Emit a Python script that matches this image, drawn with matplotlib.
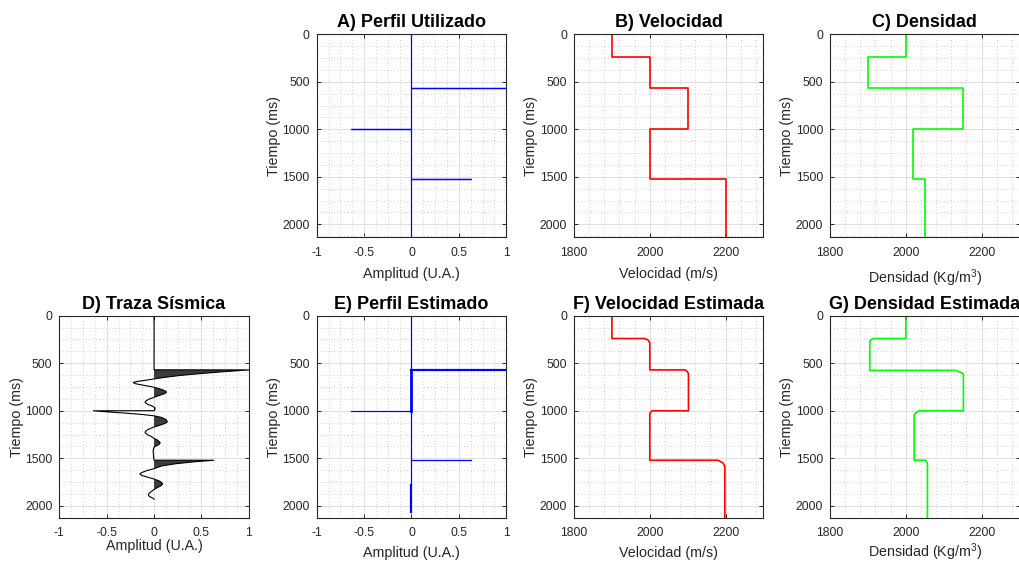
import numpy as np
import matplotlib
matplotlib.use('Agg')
import matplotlib.pyplot as plt
from matplotlib.ticker import MultipleLocator

plt.rcParams['font.family'] = ['Liberation Sans', 'DejaVu Sans']
plt.rcParams['mathtext.fontset'] = 'custom'
plt.rcParams['mathtext.rm'] = 'Liberation Sans'
plt.rcParams['mathtext.it'] = 'Liberation Sans:italic'
plt.rcParams['mathtext.default'] = 'regular'

# ---------------- data ----------------
layer_top = [0, 240, 570, 1000, 1520]
vel = [1900, 2000, 2100, 2000, 2200]
dens = [2000, 1900, 2150, 2020, 2050]
t_end_top = 2136
t_end_bot = 2124

spike_t = [570, 1000, 1520]
spike_a = [1.0, -0.64, 0.63]

est_spike_t = [570, 1000, 1520]
est_spike_a = [1.0, -0.64, 0.63]
est_base_t0 = [0, 570, 1000, 1780]
est_base_t1 = [570, 1000, 1780, 2060]
est_base_a = [0.0, -0.008, 0.0, -0.010]
est_base_w = [0.9, 2.0, 0.9, 1.6]

trace_t = [0, 569, 570, 590, 610, 630, 650, 665, 680, 692, 702, 714, 732, 752,
           775, 795, 806, 820, 840, 858, 880, 900, 912, 930, 950, 968, 985, 999,
           1000, 1012, 1026, 1040, 1053, 1070, 1095, 1117, 1135, 1155, 1170,
           1195, 1215, 1230, 1250, 1270, 1290, 1310, 1336, 1355, 1370, 1382,
           1420, 1480, 1519, 1520, 1535, 1555, 1580, 1608, 1630, 1650, 1664,
           1680, 1700, 1717, 1740, 1760, 1770, 1790, 1810, 1827, 1850, 1870,
           1890, 1905, 1920, 1930]
trace_a = [0.0, 0.0, 1.0, 0.72, 0.47, 0.26, 0.10, 0.0, -0.10, -0.18, -0.22,
           -0.20, -0.11, 0.0, 0.08, 0.125, 0.13, 0.11, 0.05, 0.0, -0.06, -0.09,
           -0.095, -0.07, -0.02, 0.01, 0.01, 0.0, -0.64, -0.48, -0.28, -0.11,
           0.0, 0.08, 0.13, 0.14, 0.11, 0.05, 0.0, -0.06, -0.09, -0.095, -0.07,
           -0.03, 0.0, 0.04, 0.065, 0.05, 0.02, 0.0, -0.01, -0.005, 0.0, 0.63,
           0.44, 0.24, 0.08, 0.0, -0.08, -0.13, -0.15, -0.13, -0.06, 0.0, 0.06,
           0.085, 0.09, 0.07, 0.03, 0.0, -0.03, -0.055, -0.06, -0.04, -0.01, 0.0]

est_vel_t = [0, 240, 240, 258, 285, 570, 570, 588, 610, 1000, 1000, 1018, 1045,
             1520, 1520, 1548, 1585, 2124]
est_vel = [1900, 1900, 1987, 1996, 2000, 2000, 2093, 2099, 2102, 2102, 2006,
           2001, 2000, 2000, 2180, 2193, 2198, 2198]

est_dens_t = [0, 240, 240, 255, 275, 575, 575, 595, 615, 1000, 1000, 1020,
              1045, 1520, 1520, 1540, 1565, 2124]
est_dens = [2000, 2000, 1915, 1907, 1905, 1905, 2130, 2145, 2152, 2152, 2035,
            2026, 2022, 2022, 2052, 2056, 2057, 2057]

amp_ticks = [-1, -0.5, 0, 0.5, 1]
amp_labels = ['-1', '-0.5', '0', '0.5', '1']
phys_ticks = [1800, 2000, 2200]
phys_labels = ['1800', '2000', '2200']
time_ticks = [0, 500, 1000, 1500, 2000]

# ---------------- figure ----------------
W, H = 1019, 562
fig = plt.figure(figsize=(W / 100, H / 100), dpi=100)

col_left = [59.3, 316.7, 574.0, 830.0]
ax_w = 189.5
top_row = (34.3, 237.3)
bot_row = (315.7, 517.7)


def make_ax(col, row):
    l = col_left[col] / W
    b = 1 - row[1] / H
    h = (row[1] - row[0]) / H
    return fig.add_axes([l, b, ax_w / W, h])


TXT = '#262626'


def style(ax, kind, tmax, title, xlabel, xlabelpad=6):
    if kind == 'amp':
        ax.set_xlim(-1, 1)
        ax.set_xticks(amp_ticks)
        ax.set_xticklabels(amp_labels)
        ax.xaxis.set_minor_locator(MultipleLocator(0.125))
    else:
        ax.set_xlim(1800, 2300)
        ax.set_xticks(phys_ticks)
        ax.set_xticklabels(phys_labels)
        ax.xaxis.set_minor_locator(MultipleLocator(40))
    ax.set_ylim(tmax, 0)
    ax.set_yticks(time_ticks)
    ax.yaxis.set_minor_locator(MultipleLocator(125))
    ax.grid(which='major', color='#dedede', lw=0.7, ls='-')
    ax.grid(which='minor', color='#c4c4c4', lw=0.6, ls=(0, (1, 3)))
    ax.set_axisbelow(True)
    ax.tick_params(which='major', direction='in', length=3, width=0.7,
                   top=True, right=True, labelsize=8.7, colors=TXT)
    ax.tick_params(axis='x', which='major', pad=7)
    ax.tick_params(axis='y', which='major', pad=5)
    ax.tick_params(which='minor', length=0)
    for s in ax.spines.values():
        s.set_color(TXT)
        s.set_linewidth(0.8)
    ax.set_title(title, fontsize=13, fontweight='bold', pad=5)
    ax.set_xlabel(xlabel, fontsize=10.3, color=TXT, labelpad=xlabelpad)
    ax.set_ylabel('Tiempo (ms)', fontsize=10.3, color=TXT, labelpad=1)


def step_profile(tops, vals, tend):
    t, v = [], []
    bounds = list(tops[1:]) + [tend]
    for top, bot, val in zip(tops, bounds, vals):
        t += [top, bot]
        v += [val, val]
    return np.array(v), np.array(t)


def spike_line(ts, amps, tend):
    x, y = [0.0], [0.0]
    for t, a in zip(ts, amps):
        x += [0.0, a, 0.0]
        y += [t, t, t]
    x.append(0.0)
    y.append(tend)
    return np.array(x), np.array(y)


# A) Perfil Utilizado
axA = make_ax(1, top_row)
xa, ya = spike_line(spike_t, spike_a, t_end_top)
axA.plot(xa, ya, color='#0000ff', lw=0.9)
style(axA, 'amp', t_end_top, 'A) Perfil Utilizado', 'Amplitud (U.A.)', 6)

# B) Velocidad
axB = make_ax(2, top_row)
vb, tb = step_profile(layer_top, vel, t_end_top)
axB.plot(vb, tb, color='#ff0000', lw=1.2)
style(axB, 'phys', t_end_top, 'B) Velocidad', 'Velocidad (m/s)', 6)

# C) Densidad
axC = make_ax(3, top_row)
dc, tc = step_profile(layer_top, dens, t_end_top)
axC.plot(dc, tc, color='#00ff00', lw=1.2)
style(axC, 'phys', t_end_top, 'C) Densidad', 'Densidad (Kg/m$^{3}$)', 6.2)

# D) Traza Sismica
axD = make_ax(0, bot_row)
tt = np.array(trace_t, dtype=float)
ta = np.array(trace_a, dtype=float)
axD.fill_betweenx(tt, 0, ta, where=ta > 0, interpolate=True,
                  color='#3c3c3c', lw=0)
axD.plot(ta, tt, color='black', lw=0.8)
style(axD, 'amp', t_end_bot, 'D) Traza Sísmica', 'Amplitud (U.A.)', -0.5)

# E) Perfil Estimado
axE = make_ax(1, bot_row)
for t0, t1, a, w in zip(est_base_t0, est_base_t1, est_base_a, est_base_w):
    axE.plot([a, a], [t0, t1], color='#0000ff', lw=w)
for t, a in zip(est_spike_t, est_spike_a):
    axE.plot([0, a], [t, t], color='#0000ff', lw=1.6 if a == max(est_spike_a) else 0.9)
style(axE, 'amp', t_end_bot, 'E) Perfil Estimado', 'Amplitud (U.A.)', 5)

# F) Velocidad Estimada
axF = make_ax(2, bot_row)
axF.plot(est_vel, est_vel_t, color='#ff0000', lw=1.2)
style(axF, 'phys', t_end_bot, 'F) Velocidad Estimada', 'Velocidad (m/s)', 5)

# G) Densidad Estimada
axG = make_ax(3, bot_row)
axG.plot(est_dens, est_dens_t, color='#00ff00', lw=1.2)
style(axG, 'phys', t_end_bot, 'G) Densidad Estimada', 'Densidad (Kg/m$^{3}$)', 1.5)

fig.savefig('out.png', dpi=100)
